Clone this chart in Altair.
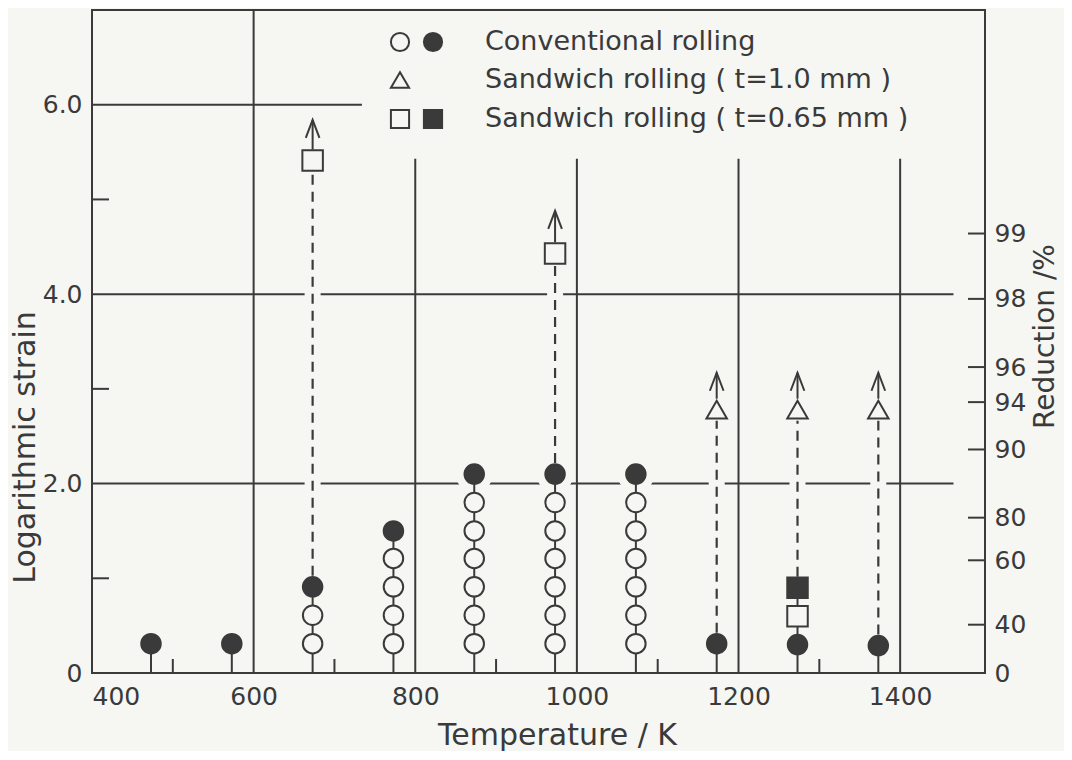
import altair as alt
import pandas as pd

BG = "#f6f6f3"
INK = "#3a3a3a"
FONT = "DejaVu Sans"

# ---------------- data ----------------
# conventional rolling, open circles (sound)
open_circle_T = [673, 673,
                 773, 773, 773, 773,
                 873, 873, 873, 873, 873, 873,
                 973, 973, 973, 973, 973, 973,
                 1073, 1073, 1073, 1073, 1073, 1073]
open_circle_eps = [0.31, 0.61,
                   0.31, 0.61, 0.91, 1.21,
                   0.31, 0.61, 0.91, 1.21, 1.50, 1.80,
                   0.31, 0.61, 0.91, 1.21, 1.50, 1.80,
                   0.31, 0.61, 0.91, 1.21, 1.50, 1.80]
# conventional rolling, filled circles (cracked)
filled_circle_T = [473, 573, 673, 773, 873, 973, 1073, 1173, 1273, 1373]
filled_circle_eps = [0.31, 0.31, 0.91, 1.50, 2.10, 2.10, 2.10, 0.31, 0.30, 0.29]
# sandwich rolling t = 0.65 mm
open_square_T = [673, 973, 1273]
open_square_eps = [5.41, 4.43, 0.60]
filled_square_T = [1273]
filled_square_eps = [0.90]
# sandwich rolling t = 1.0 mm
triangle_T = [1173, 1273, 1373]
triangle_eps = [2.78, 2.78, 2.78]
# arrows (strain limit not reached)
arrow_T = [673, 973, 1173, 1273, 1373]
arrow_from = [5.41, 4.43, 2.78, 2.78, 2.78]
arrow_tip = [5.84, 4.88, 3.17, 3.17, 3.17]
# dashed connections
dash_T = [673, 973, 1173, 1273, 1373]
dash_from = [0.91, 2.10, 0.31, 0.90, 0.29]
dash_to = [5.41, 4.43, 2.78, 2.78, 2.78]
# frame grid lines
vgrid_T = [600, 800, 1000, 1200, 1400]
vgrid_top = [7.0, 5.43, 5.43, 5.43, 5.43]
hgrid_eps = [2.0, 4.0, 6.0]
hgrid_end_T = [1466, 1466, 734]
x_minor = [500, 700, 900, 1100, 1300]
y_minor = [1.0, 3.0, 5.0]
x_ticks = [400, 600, 800, 1000, 1200, 1400]
y_ticks = [0.0, 2.0, 4.0, 6.0]
# reduction scale on right
red_pos = [0.0, 0.51, 1.19, 1.64, 2.36, 2.86, 3.23, 3.95, 4.64]
red_lab = ["0", "40", "60", "80", "90", "94", "96", "98", "99"]

legend_rows = ["Conventional rolling",
               "Sandwich rolling ( t=1.0 mm )",
               "Sandwich rolling ( t=0.65 mm )"]

# ---------------- scales / axes ----------------
X_DOM = [400, 1505]
Y_DOM = [0, 7]
W, H = 893, 663
xscale = alt.Scale(domain=X_DOM, nice=False, zero=False)
yscale = alt.Scale(domain=Y_DOM, nice=False, zero=False)
px_per_K = W / (X_DOM[1] - X_DOM[0])
px_per_eps = H / (Y_DOM[1] - Y_DOM[0])

TICK_FS = 25
TITLE_FS = 30

xaxis = alt.Axis(values=x_ticks, title="Temperature / K", grid=False, ticks=False,
                 domain=False, labelFont=FONT, labelFontSize=TICK_FS, labelColor=INK,
                 labelPadding=11, format="d",
                 titleFont=FONT, titleFontSize=TITLE_FS, titleFontWeight="normal",
                 titleColor=INK, titleX=465, titleY=62, titleBaseline="middle")
yaxis = alt.Axis(values=y_ticks, title="Logarithmic strain", grid=False, ticks=False,
                 domain=False, labelFont=FONT, labelFontSize=TICK_FS, labelColor=INK,
                 labelPadding=10,
                 labelExpr="datum.value == 0 ? '0' : format(datum.value, '.1f')",
                 titleFont=FONT, titleFontSize=TITLE_FS, titleFontWeight="normal",
                 titleColor=INK, titleX=-67, titleY=437, titleAngle=270,
                 titleBaseline="middle")


def X(f):
    return alt.X(f"{f}:Q", scale=xscale, axis=xaxis)


def Y(f):
    return alt.Y(f"{f}:Q", scale=yscale, axis=yaxis)


# ---------------- data frames ----------------
vgrid = pd.DataFrame({"T": vgrid_T, "lo": 0.0, "hi": vgrid_top})
hgrid = pd.DataFrame({"eps": hgrid_eps, "T0": X_DOM[0], "T1": hgrid_end_T})
xmin = pd.DataFrame({"T": x_minor, "lo": 0.0, "hi": 14 / px_per_eps})
ymin = pd.DataFrame({"eps": y_minor, "T0": X_DOM[0], "T1": X_DOM[0] + 17 / px_per_K})

ocirc = pd.DataFrame({"T": open_circle_T, "eps": open_circle_eps})
fcirc = pd.DataFrame({"T": filled_circle_T, "eps": filled_circle_eps})
osq = pd.DataFrame({"T": open_square_T, "eps": open_square_eps})
fsq = pd.DataFrame({"T": filled_square_T, "eps": filled_square_eps})
tri = pd.DataFrame({"T": triangle_T, "eps": triangle_eps})

solid = pd.concat([ocirc, fcirc, fsq])
stems = solid.groupby("T", as_index=False)["eps"].max().rename(columns={"eps": "hi"})
stems["lo"] = 0.0

gap = 11 / px_per_eps
dash = pd.DataFrame({"T": dash_T, "lo": [v + gap for v in dash_from],
                     "hi": [v - gap for v in dash_to]})
arrows = pd.DataFrame({"T": arrow_T, "lo": [v + gap for v in arrow_from],
                       "hi": arrow_tip})

# ---------------- layers ----------------
rule_style = dict(color=INK, strokeWidth=2)

l_vgrid = alt.Chart(vgrid).mark_rule(**rule_style).encode(x=X("T"), y=Y("lo"), y2="hi")
l_hgrid = alt.Chart(hgrid).mark_rule(**rule_style).encode(y=Y("eps"), x=X("T0"), x2="T1")
l_xmin = alt.Chart(xmin).mark_rule(**rule_style).encode(x=X("T"), y=Y("lo"), y2="hi")
l_ymin = alt.Chart(ymin).mark_rule(**rule_style).encode(y=Y("eps"), x=X("T0"), x2="T1")
l_gapw = alt.Chart(dash).mark_rule(color=BG, strokeWidth=16).encode(x=X("T"), y=Y("lo"), y2="hi")
l_halo = alt.Chart(fcirc).mark_point(shape="circle", filled=True, fill=BG, opacity=1,
                                     strokeWidth=0, size=1369).encode(x=X("T"), y=Y("eps"))
l_stem = alt.Chart(stems).mark_rule(**rule_style).encode(x=X("T"), y=Y("lo"), y2="hi")
l_dash = alt.Chart(dash).mark_rule(color=INK, strokeWidth=2.2, strokeDash=[10, 7]).encode(
    x=X("T"), y=Y("lo"), y2="hi")
l_shaft = alt.Chart(arrows).mark_rule(**rule_style).encode(x=X("T"), y=Y("lo"), y2="hi")
l_head = alt.Chart(arrows).mark_point(shape="M-0.38,1L0,0L0.38,1", filled=False, color=INK,
                                      strokeWidth=2, size=1296, opacity=1).encode(
    x=X("T"), y=Y("hi"))
l_ocirc = alt.Chart(ocirc).mark_point(shape="circle", filled=True, fill=BG, stroke=INK,
                                      strokeWidth=2, size=380, opacity=1).encode(
    x=X("T"), y=Y("eps"))
l_fcirc = alt.Chart(fcirc).mark_point(shape="circle", filled=True, fill=INK, stroke=INK,
                                      strokeWidth=2, size=380, opacity=1).encode(
    x=X("T"), y=Y("eps"))
l_osq = alt.Chart(osq).mark_point(shape="square", filled=True, fill=BG, stroke=INK,
                                  strokeWidth=2, size=420, opacity=1).encode(
    x=X("T"), y=Y("eps"))
l_fsq = alt.Chart(fsq).mark_point(shape="square", filled=True, fill=INK, stroke=INK,
                                  strokeWidth=2, size=420, opacity=1).encode(
    x=X("T"), y=Y("eps"))
l_tri = alt.Chart(tri).mark_point(shape="triangle-up", filled=True, fill=BG, stroke=INK,
                                  strokeWidth=2, size=420, opacity=1).encode(
    x=X("T"), y=Y("eps"))

# ---------------- legend (annotation) ----------------
row_y = [32, 70, 109]
leg_sym_x = [308, 341]
leg_text_x = 393
legend_layers = []
for r, label in enumerate(legend_rows):
    legend_layers.append(
        alt.Chart(pd.DataFrame({"t": [label]})).mark_text(
            align="left", baseline="middle", font=FONT, fontSize=27, color=INK).encode(
            text="t:N", x=alt.value(leg_text_x), y=alt.value(row_y[r])))
leg_syms = [
    (0, 0, "circle", BG), (0, 1, "circle", INK),
    (1, 0, "triangle-up", BG),
    (2, 0, "square", BG), (2, 1, "square", INK),
]
for r, c, shp, fill in leg_syms:
    legend_layers.append(
        alt.Chart(pd.DataFrame({"d": [0]})).mark_point(
            shape=shp, filled=True, fill=fill, stroke=INK, strokeWidth=2,
            size=330, opacity=1).encode(x=alt.value(leg_sym_x[c]), y=alt.value(row_y[r])))

main = alt.layer(l_vgrid, l_hgrid, l_xmin, l_ymin, l_gapw, l_halo, l_stem, l_dash,
                 l_shaft, l_head, l_ocirc, l_fcirc, l_osq, l_fsq, l_tri, *legend_layers)

# ---------------- right axis (reduction) ----------------
expr = ""
for i in range(len(red_pos) - 1):
    expr += f"datum.value < {(red_pos[i] + red_pos[i + 1]) / 2:.3f} ? '{red_lab[i]}' : "
expr += f"'{red_lab[-1]}'"
raxis = alt.Axis(orient="right", values=red_pos, labelExpr=expr, title="Reduction /%",
                 grid=False, ticks=False, domain=False, labelFont=FONT,
                 labelFontSize=TICK_FS, labelColor=INK, labelPadding=9, titleFont=FONT,
                 titleFontSize=28, titleFontWeight="normal", titleColor=INK,
                 titleAngle=270, titleX=60, titleY=326, titleBaseline="middle")
rticks = pd.DataFrame({"eps": red_pos[1:], "T0": X_DOM[1] - 17 / px_per_K, "T1": X_DOM[1]})
l_right = alt.Chart(rticks).mark_rule(**rule_style).encode(
    y=alt.Y("eps:Q", scale=yscale, axis=raxis), x=X("T0"), x2="T1")

chart = alt.layer(main, l_right).resolve_scale(y="independent").properties(
    width=W, height=H,
    autosize=alt.AutoSizeParams(type="none"),
    padding={"left": 84, "top": 2, "right": 79, "bottom": 78},
    background=BG,
).configure_view(stroke=INK, strokeWidth=2)

chart.save("out.html", embed_options={"renderer": "svg", "actions": False})
